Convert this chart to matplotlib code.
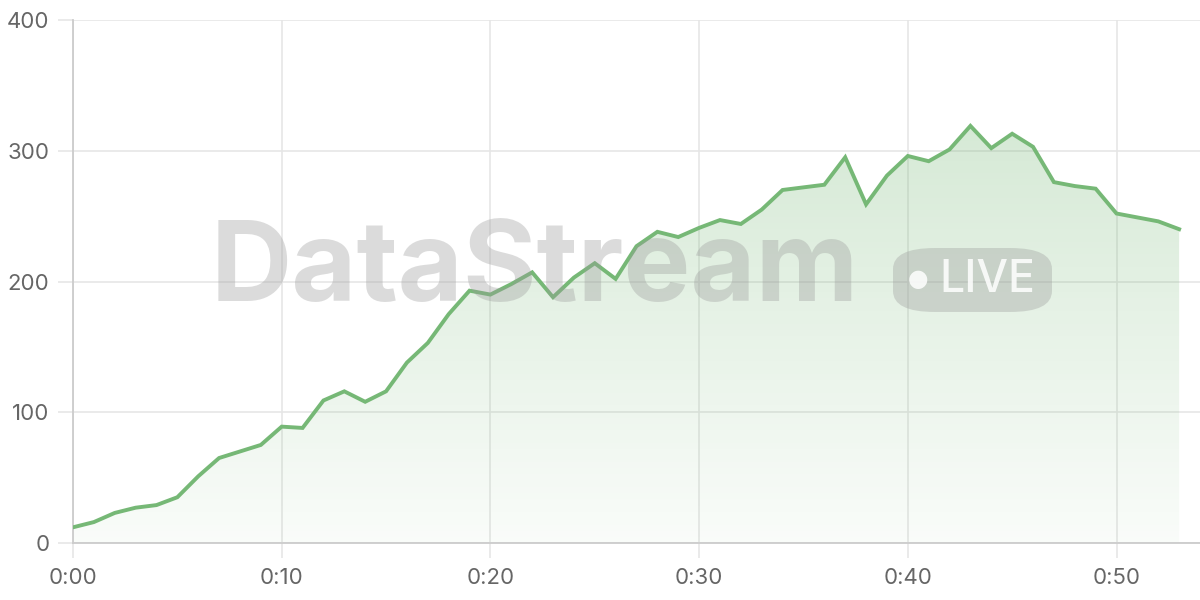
import numpy as np
import matplotlib
matplotlib.use("Agg")
import matplotlib.pyplot as plt
from matplotlib.colors import LinearSegmentedColormap
from matplotlib.patches import FancyBboxPatch

# data: one reading per minute
minutes = list(range(54))
values = [12, 16, 23, 27, 29, 35, 51, 65, 70, 75,
          89, 88, 109, 116, 108, 116, 138, 153, 175, 193,
          190, 198, 207, 188, 203, 214, 202, 227, 238, 234,
          241, 247, 244, 255, 270, 272, 274, 295, 259, 281,
          296, 292, 301, 319, 302, 313, 303, 276, 273, 271,
          252, 249, 246, 240]
x_ticks = [0, 10, 20, 30, 40, 50]
x_labels = ["0:00", "0:10", "0:20", "0:30", "0:40", "0:50"]
y_ticks = [0, 100, 200, 300, 400]

line_color = "#76b876"
grid_color = "#e6e6e6"
text_color = "#666666"

plt.rcParams['font.family'] = ['Inter', 'DejaVu Sans']

fig = plt.figure(figsize=(12, 6), dpi=100)
ax = fig.add_axes([73 / 1200, 57 / 600, 1 - 73 / 1200, (543 - 20) / 600])
ax.set_xlim(0, 54)
ax.set_ylim(0, 400)

# gradient area under the line
poly = ax.fill_between(minutes, values, 0, color="none", lw=0)
cmap = LinearSegmentedColormap.from_list(
    "g", [(0.46, 0.72, 0.46, 0.04), (0.46, 0.72, 0.46, 0.30)])
grad = np.linspace(0, 1, 256).reshape(-1, 1)
img = ax.imshow(grad, cmap=cmap, aspect="auto", origin="lower",
                extent=[0, 54, 0, max(values)], zorder=1)
img.set_clip_path(poly.get_paths()[0], transform=ax.transData)

ax.plot(minutes, values, color=line_color, lw=2.8, zorder=4,
        solid_joinstyle="miter")

# axes styling
ax.set_xticks(x_ticks)
ax.set_xticklabels(x_labels)
ax.set_yticks(y_ticks)
ax.grid(True, color=grid_color, lw=1.2, zorder=0)
ax.set_axisbelow(True)
for s in ["top", "right"]:
    ax.spines[s].set_visible(False)
for s in ["left", "bottom"]:
    ax.spines[s].set_color("#cccccc")
    ax.spines[s].set_linewidth(1.3)
ax.tick_params(axis="both", length=11, width=1.2, color=grid_color,
               labelsize=16, labelcolor=text_color)
ax.tick_params(axis="y", pad=6)
ax.tick_params(axis="x", pad=7)

# watermark
fig.text(535 / 1200, 1 - 272 / 600, "DataStream", fontsize=81,
         fontweight="bold", color="#9a9a9a", alpha=0.35,
         ha="center", va="center", zorder=3)
pill = FancyBboxPatch((893 / 1200, 1 - 312 / 600), 159 / 1200, 64 / 600,
                      boxstyle="round,pad=0,rounding_size=0.035",
                      transform=fig.transFigure, facecolor="#9a9a9a",
                      alpha=0.35, edgecolor="none", zorder=3)
fig.patches.append(pill)
fig.text(918 / 1200, 1 - 279 / 600, "●", fontsize=17, color="white",
         alpha=0.85, ha="center", va="center", zorder=3,
         family=['DejaVu Sans'])
fig.text(987 / 1200, 1 - 280 / 600, "LIVE", fontsize=32, color="white",
         fontweight="medium", alpha=0.85, ha="center", va="center", zorder=3)

plt.savefig("out.png", dpi=100)
